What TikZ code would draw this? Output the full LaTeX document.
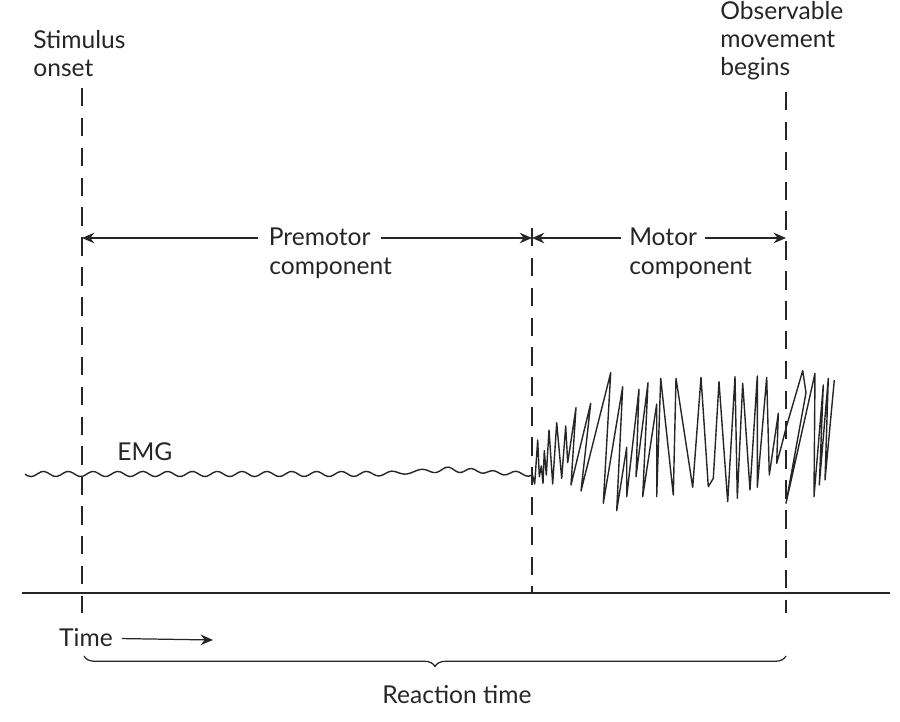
\documentclass[tikz,border=0pt]{standalone}
\usepackage{fontspec}
\setmainfont{Lato}
\usetikzlibrary{arrows.meta, positioning, decorations.pathreplacing}
\definecolor{ink}{HTML}{262626}

\begin{document}
\begin{tikzpicture}[x=0.02cm, y=-0.02cm, line join=round,
  every node/.style={font=\fontsize{14}{16}\selectfont, text=ink, inner sep=0pt},
  marker/.style={draw=ink, line width=0.8pt, dash pattern=on 10.5pt off 6.5pt},
  span/.style={draw=ink, line width=0.7pt, -{Stealth[length=7pt, width=6pt]}},
  lbl/.style={text height=11pt, text depth=2pt, inner xsep=6pt},
  trace/.style={draw=ink, line width=0.8pt}]
  \useasboundingbox (0,0) rectangle (900,722);

  % event markers
  \coordinate (onset top) at (82,88);
  \coordinate (onset bot) at (82,613);
  \coordinate (motor top) at (532,228);
  \coordinate (motor bot) at (532,593);
  \coordinate (move top) at (786,92);
  \coordinate (move bot) at (786,613);
  \draw[marker] (onset top) -- (onset bot);
  \draw[marker] (motor top) -- (motor bot);
  \draw[marker] (move top) -- (move bot);

  \node[align=left, anchor=north west] (onset lbl) at (33,30) {Stimulus\\onset};
  \node[align=left, anchor=north west] (move lbl) at (720,1) {Observable\\movement\\begins};

  % components
  \coordinate (onset mid) at (82,238);
  \coordinate (motor mid) at (532,238);
  \coordinate (move mid) at (786,238);
  \node[lbl, anchor=west] (premotor) at (258,238) {Premotor};
  \node[anchor=base west] (premotor comp) at (269,275) {component};
  \node[lbl, anchor=west, inner xsep=4.5pt] (motor) at (621,238) {Motor};
  \node[anchor=base west] (motor comp) at (629,275) {component};
  \draw[span] (premotor) -- (onset mid);
  \draw[span] (premotor) -- (motor mid);
  \draw[span] (motor) -- (motor mid);
  \draw[span] (motor) -- (move mid);

  % EMG trace
  \node[anchor=west] (emg) at (117,452) {EMG};
  \draw[trace] plot[smooth, domain=25:532, samples=160]
    (\x, {474 + 2.6*sin(14.5*\x) - 6*exp(-((\x-450)/45)^2)*(0.7+0.7*sin(14.5*\x+40))});
  \draw[trace] plot coordinates {(532,473) (534.7,484) (537.7,440) (539.3,476.7)
    (541.3,466) (543,483.3) (544.3,450.7) (546.3,475) (549,430) (552.7,484)
    (556.7,422.7) (561.7,478.3) (565.7,426) (567.7,462.7) (576,407.7) (571,485)
    (590.7,403.3) (581,491) (610.7,372.7) (603.3,503.3) (622.7,386.7) (616.7,510.7)
    (626.7,447.3) (626.7,496.7) (639,389.3) (636,476.7) (648,382.7) (642.7,496.7)
    (656.7,404) (656.7,496.7) (660.7,378.3) (673.3,495) (676,378.3) (692.7,487.3)
    (701,377.3) (708.3,486.7) (713.3,478.3) (719,381.7) (727.7,501.7) (735,376.7)
    (737.3,498.3) (742.7,383.3) (750,490) (757.3,376) (757.3,487.3) (766.7,377.3)
    (769.3,475) (778.3,413.3) (776.7,463.3) (781.7,445) (786,428) (802.7,370.7)
    (806,392.7) (786,503.3) (815,373.3) (814,496.7) (823.3,385) (819.3,485)
    (828.3,378.3) (825,480) (834.3,380)};

  % time axis
  \coordinate (axis start) at (22,593);
  \coordinate (axis end) at (890,593);
  \draw[draw=ink, line width=0.8pt] (axis start) -- (axis end);
  \node[anchor=west, inner xsep=5pt] (time) at (50,638) {Time};
  \coordinate (time end) at (213,640);
  \draw[span] (time) -- (time end);

  % reaction time brace
  \coordinate (rt left) at (84,656);
  \coordinate (rt right) at (786,656);
  \draw[draw=ink, line width=0.7pt, decorate, decoration={brace, amplitude=6pt}]
    (rt right) -- (rt left);
  \node (reaction) at (457,695) {Reaction time};
\end{tikzpicture}
\end{document}
